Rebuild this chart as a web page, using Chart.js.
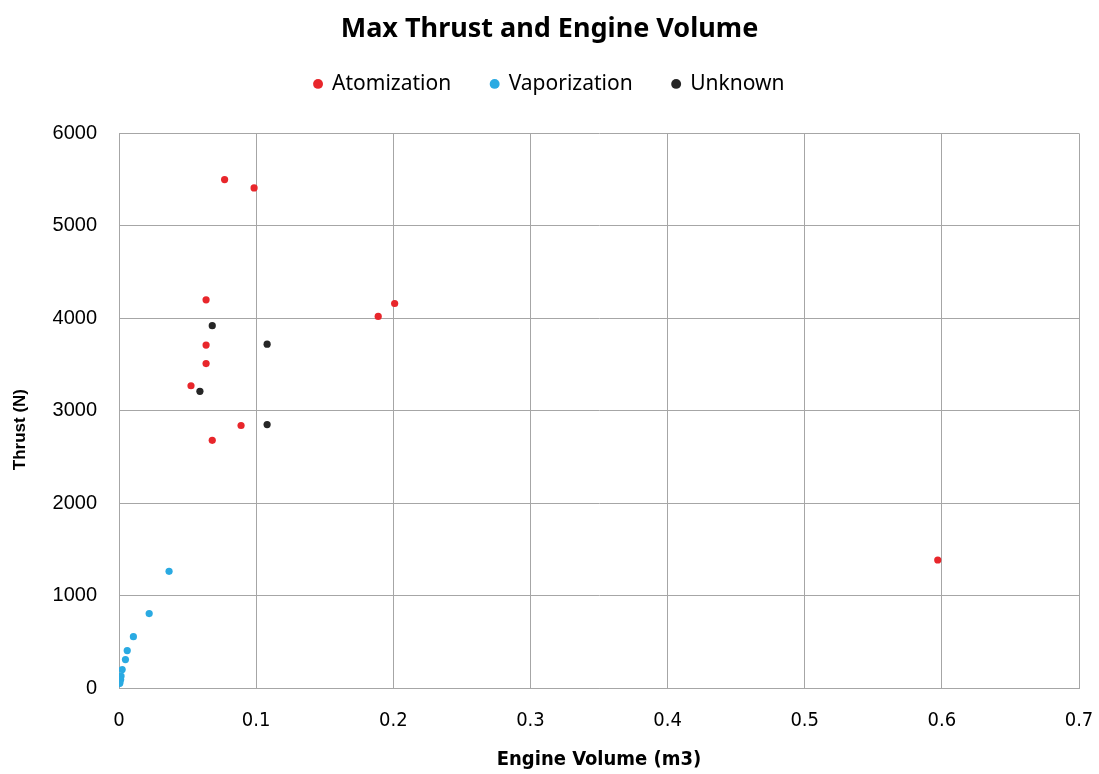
<!DOCTYPE html>
<html>
<head>
<meta charset="utf-8">
<script src="https://cdn.jsdelivr.net/npm/chart.js@4"></script>
<style>
  html, body { margin: 0; padding: 0; background: #fff; }
  #wrap { width: 1099px; height: 774px; }
</style>
</head>
<body>
<div id="wrap"><canvas id="chart"></canvas></div>
<script>
// engine volume (m3) / thrust (N)
const atomVolume  = [0.077, 0.0985, 0.0635, 0.0635, 0.0635, 0.0525, 0.089, 0.068, 0.189, 0.201, 0.597];
const atomThrust  = [5500, 5410, 4200, 3710, 3510, 3270, 2840, 2680, 4020, 4160, 1385];
const vapVolume   = [0.0365, 0.022, 0.0105, 0.006, 0.0047, 0.0023, 0.0015, 0.0012, 0.0007, 0.0003];
const vapThrust   = [1262, 805, 555, 405, 308, 200, 130, 92, 58, 48];
const unkVolume   = [0.068, 0.108, 0.059, 0.108];
const unkThrust   = [3920, 3720, 3210, 2850];

const pts = (xs, ys) => xs.map((x, i) => ({ x: x, y: ys[i] }));
const gridColor = '#a6a6a6';
const narrow = "'DejaVu Sans Condensed', 'Liberation Sans', sans-serif";

new Chart(document.getElementById('chart'), {
  type: 'scatter',
  data: {
    datasets: [
      { label: 'Atomization', data: pts(atomVolume, atomThrust), backgroundColor: '#e8262b', borderWidth: 0, pointRadius: 3.6 },
      { label: 'Vaporization', data: pts(vapVolume, vapThrust), backgroundColor: '#2aaae2', borderWidth: 0, pointRadius: 3.6 },
      { label: 'Unknown', data: pts(unkVolume, unkThrust), backgroundColor: '#262626', borderWidth: 0, pointRadius: 3.6 }
    ]
  },
  options: {
    responsive: true,
    maintainAspectRatio: false,
    animation: false,
    layout: { padding: 0 },
    plugins: {
      title: {
        display: true,
        text: 'Max Thrust and Engine Volume',
        color: '#000',
        font: { family: 'Noto Sans', size: 27, weight: 'bold' },
        padding: { top: 13, bottom: -12 }
      },
      // blank spacer between the legend and the plot
      subtitle: {
        display: true,
        text: ' ',
        weight: 500,
        font: { size: 10 },
        padding: { top: 0, bottom: 17 }
      },
      legend: {
        labels: {
          usePointStyle: true,
          pointStyle: 'circle',
          boxWidth: 7,
          boxHeight: 7,
          padding: 40,
          color: '#000',
          font: { family: 'Noto Sans', size: 21 }
        }
      },
      tooltip: { enabled: false }
    },
    scales: {
      x: {
        type: 'linear',
        min: 0,
        max: 0.7,
        ticks: { stepSize: 0.1, padding: 21, color: '#000', font: { family: narrow, size: 20 } },
        grid: { color: gridColor, drawTicks: false },
        border: { color: gridColor },
        title: { display: true, text: 'Engine Volume (m3)', color: '#000', font: { family: narrow, size: 20, weight: 'bold' }, padding: { top: 8, bottom: 2 } },
        afterFit: s => { s.height = 86; s.paddingLeft = 0; s.paddingRight = 20; }
      },
      y: {
        min: 0,
        max: 6000,
        ticks: { stepSize: 1000, padding: 22, color: '#000', font: { family: 'Liberation Sans', size: 20 }, callback: v => String(v) },
        grid: { color: gridColor, drawTicks: false },
        border: { color: gridColor },
        title: { display: true, text: 'Thrust (N)        ', color: '#000', font: { family: 'Liberation Sans', size: 17, weight: 'bold' }, padding: { top: 10, bottom: 6 } },
        afterFit: s => { s.width = 119; }
      }
    }
  }
});
</script>
</body>
</html>
